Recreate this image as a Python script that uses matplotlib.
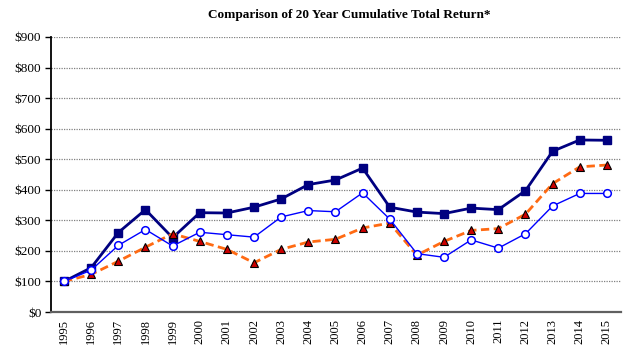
import matplotlib
matplotlib.use("Agg")
import matplotlib.pyplot as plt

years = [str(y) for y in range(1995, 2016)]
series_a = [100, 145, 260, 335, 243, 325, 324, 343, 370, 417, 432, 471, 343, 327, 322, 340, 335, 397, 526, 563, 562]
series_b = [100, 137, 218, 270, 216, 261, 253, 245, 311, 332, 328, 390, 304, 191, 179, 236, 209, 256, 347, 388, 388]
series_c = [100, 123, 166, 212, 256, 231, 205, 161, 205, 229, 238, 275, 291, 186, 231, 267, 273, 320, 420, 475, 481]
y_ticks = list(range(0, 1000, 100))
y_labels = ["$" + str(v) for v in y_ticks]
title = "Comparison of 20 Year Cumulative Total Return*"

plt.rcParams['font.family'] = ['Liberation Serif', 'DejaVu Serif']

fig = plt.figure(figsize=(6.44, 3.6), dpi=100)
ax = fig.add_axes([51/644, 1 - 312/360, (621 - 51)/644, (312 - 37)/360])

x = list(range(len(years)))
ax.plot(x, series_a, color='#000080', lw=2.0, marker='s', ms=5.5,
        markerfacecolor='#000080', markeredgecolor='#000080', zorder=3)
ax.plot(x, series_c, color='#FF6A13', lw=2.0, ls=(0, (3, 1.6)), marker='^', ms=5.5,
        markerfacecolor='#CC0000', markeredgecolor='black', markeredgewidth=0.8, zorder=4)
ax.plot(x, series_b, color='#0000FF', lw=1.0, marker='o', ms=5.5,
        markerfacecolor='white', markeredgecolor='#0000FF', markeredgewidth=1.1, zorder=5)

ax.set_xlim(-0.48, 20.52)
ax.set_ylim(0, 900)
ax.set_yticks(y_ticks)
ax.set_yticklabels(y_labels, fontsize=9.5)
ax.set_xticks(x)
ax.set_xticklabels(years, rotation=90, fontsize=9)
ax.tick_params(axis='x', length=0, pad=5)
ax.tick_params(axis='y', length=4, direction='out', pad=3, width=1)

ax.yaxis.grid(True, color='#808080', ls=(0, (1, 1)), lw=0.9)
ax.set_axisbelow(True)
for s in ['top', 'right']:
    ax.spines[s].set_visible(False)
ax.spines['left'].set_color('black')
ax.spines['left'].set_linewidth(1.3)
ax.spines['bottom'].set_color('#606060')
ax.spines['bottom'].set_linewidth(1.6)

fig.text(349/644, 1 - 15/360, title, ha='center', va='center',
         fontsize=9.5, fontweight='bold')

fig.savefig("out.png", dpi=100)
